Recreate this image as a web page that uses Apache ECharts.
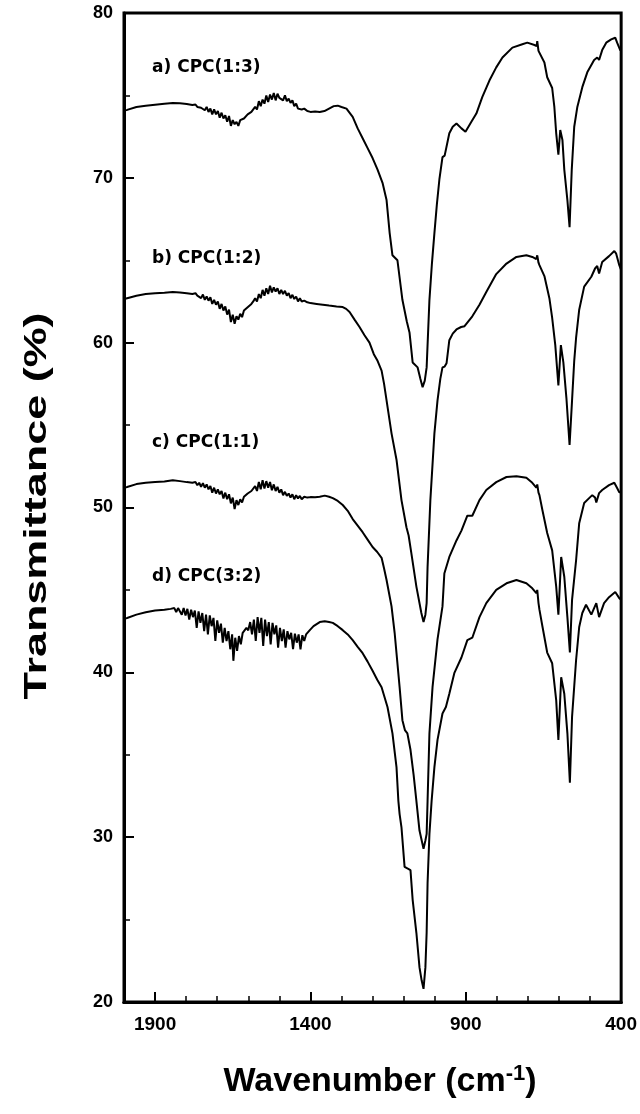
<!DOCTYPE html>
<html>
<head>
<meta charset="utf-8">
<script src="https://cdn.jsdelivr.net/npm/echarts@6/dist/echarts.min.js"></script>
<style>
  html, body { margin: 0; padding: 0; background: #fff; }
  #chart { width: 640px; height: 1114px; }
</style>
</head>
<body>
<div id="chart"></div>
<script>
// FTIR spectra, [wavenumber cm-1, transmittance %]
const curveA = [
  [2000,74.1],[1990,74.12],[1960,74.3],[1930,74.38],[1900,74.44],[1870,74.5],[1843,74.54],[1820,74.52],[1798,74.48],[1780,74.42],
  [1770,74.45],[1764,74.3],[1758,74.4],[1752,74.25],[1746,74.35],[1740,74.1],[1734,74.3],[1728,74.0],[1722,74.2],[1716,73.85],
  [1710,74.15],[1704,73.85],[1698,74.05],[1692,73.65],[1686,73.95],[1680,73.6],[1674,73.8],[1668,73.4],[1662,73.75],[1656,73.15],
  [1650,73.5],[1644,73.25],[1638,73.4],[1632,73.15],[1626,73.5],[1620,73.4],[1614,73.6],[1608,73.6],[1602,73.85],[1596,73.9],
  [1590,74.0],[1584,74.1],[1578,74.3],[1572,74.15],[1566,74.65],[1560,74.35],[1554,74.75],[1548,74.5],[1542,75.0],[1536,74.6],
  [1530,75.05],[1524,74.75],[1518,75.15],[1512,74.7],[1506,75.1],[1500,74.85],[1494,74.95],[1488,74.7],[1482,75.0],[1476,74.65],
  [1470,74.8],[1464,74.55],[1458,74.7],[1452,74.35],[1446,74.5],[1440,74.2],[1434,74.3],[1428,74.15],[1420,74.2],[1410,74.05],
  [1400,74.0],[1385,74.02],[1370,74.0],[1355,74.05],[1340,74.2],[1325,74.35],[1312,74.38],[1300,74.3],[1284,74.2],[1264,73.7],
  [1248,73.0],[1232,72.4],[1216,71.8],[1200,71.2],[1184,70.5],[1168,69.7],[1155,68.65],[1145,66.65],[1136,65.3],[1120,65.0],
  [1104,62.6],[1090,61.3],[1081,60.6],[1071,58.8],[1055,58.5],[1046,57.8],[1039,57.3],[1032,57.7],[1026,58.5],[1017,62.6],
  [1009,64.8],[1001,66.65],[993,68.4],[985,69.9],[975,71.26],[968,71.35],[962,71.4],[953,72.7],[942,73.1],[930,73.3],
  [914,73.0],[901,72.8],[882,73.4],[866,73.9],[847,74.9],[824,75.9],[802,76.7],[782,77.3],[750,77.9],[718,78.1],
  [702,78.2],[679,78.06],[672,78.0],[670,78.3],[666,77.7],[663,77.6],[647,77.0],[638,76.1],[622,75.45],[615,74.3],
  [609,72.7],[602,71.4],[596,72.9],[589,72.3],[583,70.5],[573,68.65],[566,67.0],[559,70.5],[551,73.1],[541,74.3],
  [525,75.5],[509,76.4],[487,77.15],[477,77.3],[471,77.15],[461,77.75],[448,78.2],[432,78.4],[419,78.5],[413,78.2],
  [403,77.75],[400,77.7]
];
const curveB = [
  [2000,62.65],[1990,62.7],[1960,62.85],[1930,62.95],[1900,63.0],[1870,63.03],[1843,63.07],[1820,63.05],[1798,63.0],[1780,62.95],
  [1770,63.0],[1764,62.85],[1758,62.95],[1752,62.7],[1746,62.92],[1740,62.6],[1734,62.8],[1728,62.55],[1722,62.75],[1716,62.35],
  [1710,62.6],[1704,62.3],[1698,62.5],[1692,62.05],[1686,62.35],[1680,61.95],[1674,62.2],[1668,61.7],[1662,62.0],[1656,61.25],
  [1650,61.7],[1644,61.15],[1638,61.6],[1632,61.4],[1626,61.75],[1620,61.55],[1614,61.95],[1608,61.85],[1602,62.15],[1596,62.2],
  [1590,62.35],[1584,62.5],[1578,62.7],[1572,62.5],[1566,62.95],[1560,62.7],[1554,63.2],[1548,62.85],[1542,63.3],[1536,62.95],
  [1530,63.45],[1524,63.05],[1518,63.35],[1512,63.1],[1506,63.3],[1500,62.95],[1494,63.2],[1488,62.95],[1482,63.15],[1476,62.85],
  [1470,63.0],[1464,62.7],[1458,62.9],[1452,62.65],[1446,62.8],[1440,62.5],[1434,62.7],[1428,62.5],[1420,62.55],[1410,62.45],
  [1400,62.4],[1380,62.35],[1360,62.3],[1340,62.25],[1316,62.2],[1296,62.16],[1285,62.05],[1274,61.86],[1258,61.4],[1242,60.95],
  [1226,60.45],[1210,60.0],[1196,59.3],[1184,58.9],[1171,58.3],[1163,57.5],[1155,56.5],[1139,54.5],[1123,52.9],[1107,50.45],
  [1091,48.8],[1084,48.3],[1075,47.2],[1059,45.2],[1043,43.6],[1036,43.05],[1030,43.5],[1026,44.2],[1023,46.4],[1014,50.45],
  [1001,54.5],[991,56.5],[982,57.8],[975,58.5],[968,58.55],[962,58.75],[953,60.15],[942,60.55],[930,60.8],[915,60.95],
  [904,61.0],[879,61.6],[856,62.3],[834,63.07],[802,64.16],[769,64.8],[737,65.2],[705,65.3],[686,65.2],[673,65.07],
  [670,65.3],[666,64.85],[663,64.7],[647,64.04],[631,62.7],[622,61.5],[612,59.85],[602,57.4],[594,59.85],[586,58.8],
  [576,56.6],[566,53.8],[558,56.5],[551,58.9],[545,60.3],[535,62.0],[519,63.4],[496,64.0],[484,64.5],[477,64.65],
  [471,64.2],[461,64.9],[439,65.25],[422,65.56],[416,65.4],[406,64.7],[400,64.4]
];
const curveC = [
  [2000,51.2],[1990,51.24],[1960,51.42],[1930,51.5],[1900,51.54],[1870,51.58],[1843,51.66],[1820,51.6],[1798,51.54],[1780,51.5],
  [1770,51.55],[1764,51.35],[1758,51.5],[1752,51.25],[1746,51.48],[1740,51.2],[1734,51.4],[1728,51.1],[1722,51.3],[1716,50.9],
  [1710,51.2],[1704,50.85],[1698,51.1],[1692,50.8],[1686,51.0],[1680,50.55],[1674,50.9],[1668,50.5],[1662,50.8],[1656,50.25],
  [1650,50.6],[1644,49.9],[1638,50.45],[1632,50.15],[1626,50.5],[1620,50.3],[1614,50.65],[1608,50.55],[1602,50.85],[1596,50.8],
  [1590,51.0],[1584,50.95],[1578,51.3],[1572,51.0],[1566,51.55],[1560,51.1],[1554,51.65],[1548,51.15],[1542,51.6],[1536,51.2],
  [1530,51.55],[1524,51.05],[1518,51.4],[1512,51.0],[1506,51.25],[1500,50.9],[1494,51.1],[1488,50.75],[1482,50.95],[1476,50.7],
  [1470,50.85],[1464,50.6],[1458,50.8],[1452,50.5],[1446,50.75],[1440,50.55],[1434,50.7],[1428,50.5],[1420,50.65],[1410,50.6],
  [1400,50.63],[1385,50.62],[1370,50.65],[1354,50.72],[1340,50.65],[1328,50.57],[1312,50.4],[1296,50.15],[1280,49.8],[1264,49.3],
  [1248,48.9],[1232,48.5],[1216,48.05],[1200,47.6],[1185,47.3],[1171,46.95],[1163,46.3],[1155,45.6],[1139,44.0],[1129,42.4],
  [1113,39.1],[1104,37.1],[1096,36.5],[1088,36.3],[1078,35.3],[1068,33.8],[1059,32.2],[1049,30.4],[1036,29.3],[1030,29.8],
  [1026,30.2],[1023,32.2],[1017,36.3],[1007,39.1],[991,42.0],[975,44.0],[969,46.0],[964,45.9],[953,47.0],[930,48.0],
  [914,48.6],[895,49.5],[879,49.5],[856,50.45],[834,51.06],[802,51.54],[769,51.85],[737,51.9],[705,51.8],[686,51.5],
  [673,51.2],[670,51.4],[666,50.9],[663,50.75],[653,49.8],[638,48.45],[622,47.4],[609,45.2],[602,43.5],[593,47.0],
  [583,45.8],[573,43.35],[565,41.2],[558,44.4],[545,46.8],[535,49.05],[519,50.27],[503,50.57],[493,50.75],[484,50.6],
  [480,50.3],[471,50.87],[461,51.06],[439,51.36],[422,51.5],[416,51.54],[413,51.18],[406,50.93],[400,50.93]
];
const curveD = [
  [2000,43.25],[1990,43.3],[1960,43.5],[1930,43.65],[1900,43.75],[1870,43.8],[1850,43.85],
  [1844,43.75],[1838,43.9],[1832,43.65],[1826,43.9],[1820,43.8],[1814,43.5],[1808,43.9],[1802,43.45],[1796,43.85],[1790,43.2],
  [1784,43.8],[1778,43.35],[1772,43.75],[1766,42.7],[1760,43.7],[1754,43.0],[1748,43.6],[1742,42.5],[1736,43.5],[1730,42.3],
  [1724,43.45],[1718,42.8],[1712,43.3],[1706,41.9],[1700,43.15],[1694,42.4],[1688,42.95],[1682,41.8],[1676,42.7],[1670,41.9],
  [1664,42.5],[1658,41.4],[1652,42.3],[1648,40.7],[1642,42.1],[1636,41.3],[1630,42.2],[1624,41.7],[1618,42.4],[1612,42.3],
  [1606,42.7],[1600,42.55],[1594,43.05],[1588,42.3],[1582,43.2],[1576,41.9],[1570,43.35],[1564,42.4],[1558,43.3],[1552,41.6],
  [1546,43.2],[1540,42.2],[1534,43.05],[1528,41.7],[1522,43.0],[1516,42.3],[1510,42.85],[1504,41.5],[1498,42.7],[1492,41.9],
  [1486,42.6],[1480,41.5],[1474,42.5],[1468,42.0],[1462,42.4],[1456,41.4],[1450,42.35],[1444,41.8],[1438,42.3],[1432,41.4],
  [1426,42.25],[1420,41.9],[1414,42.3],[1408,42.35],[1402,42.56],[1390,42.8],[1370,43.05],[1354,43.1],[1340,43.05],[1328,43.0],
  [1312,42.8],[1296,42.56],[1280,42.3],[1264,41.95],[1248,41.55],[1232,41.16],[1216,40.65],[1200,40.1],[1185,39.55],[1171,39.1],
  [1152,37.9],[1136,36.3],[1123,34.25],[1117,32.2],[1113,31.4],[1107,30.6],[1097,28.2],[1088,28.1],[1078,28.0],[1071,26.2],
  [1059,24.2],[1049,22.1],[1042,21.3],[1036,20.8],[1030,22.1],[1026,24.2],[1023,27.2],[1017,30.2],[1010,32.2],[1001,34.25],
  [991,35.9],[975,37.5],[969,37.6],[964,37.9],[953,38.7],[937,39.95],[914,40.9],[895,41.95],[879,42.1],[856,43.35],
  [834,44.2],[802,45.0],[769,45.4],[737,45.6],[705,45.4],[686,45.1],[673,44.8],[670,45.0],[666,44.2],[663,43.8],
  [653,42.75],[638,41.2],[622,40.55],[609,38.3],[602,35.9],[593,39.7],[583,38.7],[573,36.3],[565,33.3],[558,37.3],
  [545,40.75],[535,42.75],[525,43.6],[513,44.1],[496,43.5],[480,44.2],[471,43.35],[455,44.2],[439,44.56],[419,44.87],
  [413,44.8],[406,44.5],[400,44.4]
];

const seriesLabels = ['a) CPC(1:3)', 'b) CPC(1:2)', 'c) CPC(1:1)', 'd) CPC(3:2)'];
const xMajorTicks = [400, 900, 1400, 1900];
const xMinorTicks = [400, 500, 600, 700, 800, 900, 1000, 1100, 1200, 1300, 1400, 1500, 1600, 1700, 1800, 1900, 2000];

const chart = echarts.init(document.getElementById('chart'));

function spectrum(name, data) {
  return {
    name: name,
    type: 'line',
    xAxisIndex: 0,
    yAxisIndex: 0,
    data: data,
    symbol: 'none',
    lineStyle: { color: '#000', width: 2 },
    silent: true
  };
}

const tickFont = '"Liberation Sans", Arial';
const labelFont = 'bold 17px "DejaVu Sans"';
const labelTops = [68, 259, 443, 577];
const plotBox = { left: 124, right: 18, top: 13, bottom: 112 };
const xLabelStyle = {
  customValues: xMajorTicks, margin: 13,
  formatter: function (v) { return String(v); },
  fontSize: 19, fontWeight: 'bold', fontFamily: tickFont
};

const option = {
  animation: false,
  backgroundColor: '#fff',
  grid: [
    Object.assign({ show: true, borderColor: '#000', borderWidth: 3 }, plotBox),
    // same box again, carries the long ticks at the labelled wavenumbers
    Object.assign({ show: false }, plotBox)
  ],
  xAxis: [{
    // labels + short ticks every 100 cm-1
    gridIndex: 0,
    type: 'value',
    inverse: true,
    min: 400,
    max: 2000,
    axisLine: { show: true, lineStyle: { color: '#000', width: 3 } },
    axisTick: { show: true, inside: true, length: 6, lineStyle: { color: '#000', width: 1.5 }, customValues: xMinorTicks },
    axisLabel: Object.assign({ color: '#000' }, xLabelStyle),
    splitLine: { show: false }
  }, {
    gridIndex: 1,
    type: 'value',
    inverse: true,
    min: 400,
    max: 2000,
    position: 'bottom',
    axisLine: { show: true, lineStyle: { color: '#000', width: 3 } },
    axisTick: { show: true, inside: true, length: 10, lineStyle: { color: '#000', width: 2 }, customValues: xMajorTicks },
    axisLabel: Object.assign({ color: 'rgba(0,0,0,0)' }, xLabelStyle),
    splitLine: { show: false }
  }],
  yAxis: [{
    gridIndex: 0,
    type: 'value',
    min: 20,
    max: 80,
    interval: 10,
    axisLine: { show: true, lineStyle: { color: '#000', width: 3 } },
    axisTick: { inside: true, length: 10, lineStyle: { color: '#000', width: 2 } },
    minorTick: { show: true, splitNumber: 2, length: 6, lineStyle: { color: '#000', width: 1.5 } },
    axisLabel: { margin: 11, color: '#000', fontSize: 18, fontWeight: 'bold', fontFamily: tickFont },
    splitLine: { show: false },
    minorSplitLine: { show: false }
  }, {
    gridIndex: 1,
    type: 'value',
    min: 20,
    max: 80,
    axisLine: { show: false },
    axisTick: { show: false },
    axisLabel: { show: false },
    splitLine: { show: false }
  }],
  series: [
    spectrum(seriesLabels[0], curveA),
    spectrum(seriesLabels[1], curveB),
    spectrum(seriesLabels[2], curveC),
    spectrum(seriesLabels[3], curveD),
    // empty series so the second grid's axes get laid out
    { type: 'line', xAxisIndex: 1, yAxisIndex: 1, data: [], silent: true }
  ],
  graphic: [
    {
      type: 'text', x: 37, y: 506, rotation: Math.PI / 2, scaleX: 1.45,
      style: {
        text: 'Transmittance (%)', fill: '#000',
        font: 'bold 31px "Liberation Sans", Arial', textAlign: 'center', textVerticalAlign: 'middle'
      }
    },
    {
      type: 'text', x: 380, y: 1082,
      style: {
        text: '{t|Wavenumber (cm}{s|-1}{t|)}',
        textAlign: 'center', textVerticalAlign: 'middle',
        rich: {
          t: { font: 'bold 34px "Liberation Sans", Arial', fill: '#000' },
          s: { font: 'bold 22px "Liberation Sans", Arial', fill: '#000', padding: [0, 0, 17, 0] }
        }
      }
    }
  ].concat(seriesLabels.map(function (txt, i) {
    return {
      type: 'text', x: 152, y: labelTops[i],
      style: { text: txt, fill: '#000', font: labelFont, textVerticalAlign: 'middle' }
    };
  }))
};

chart.setOption(option);
</script>
</body>
</html>
